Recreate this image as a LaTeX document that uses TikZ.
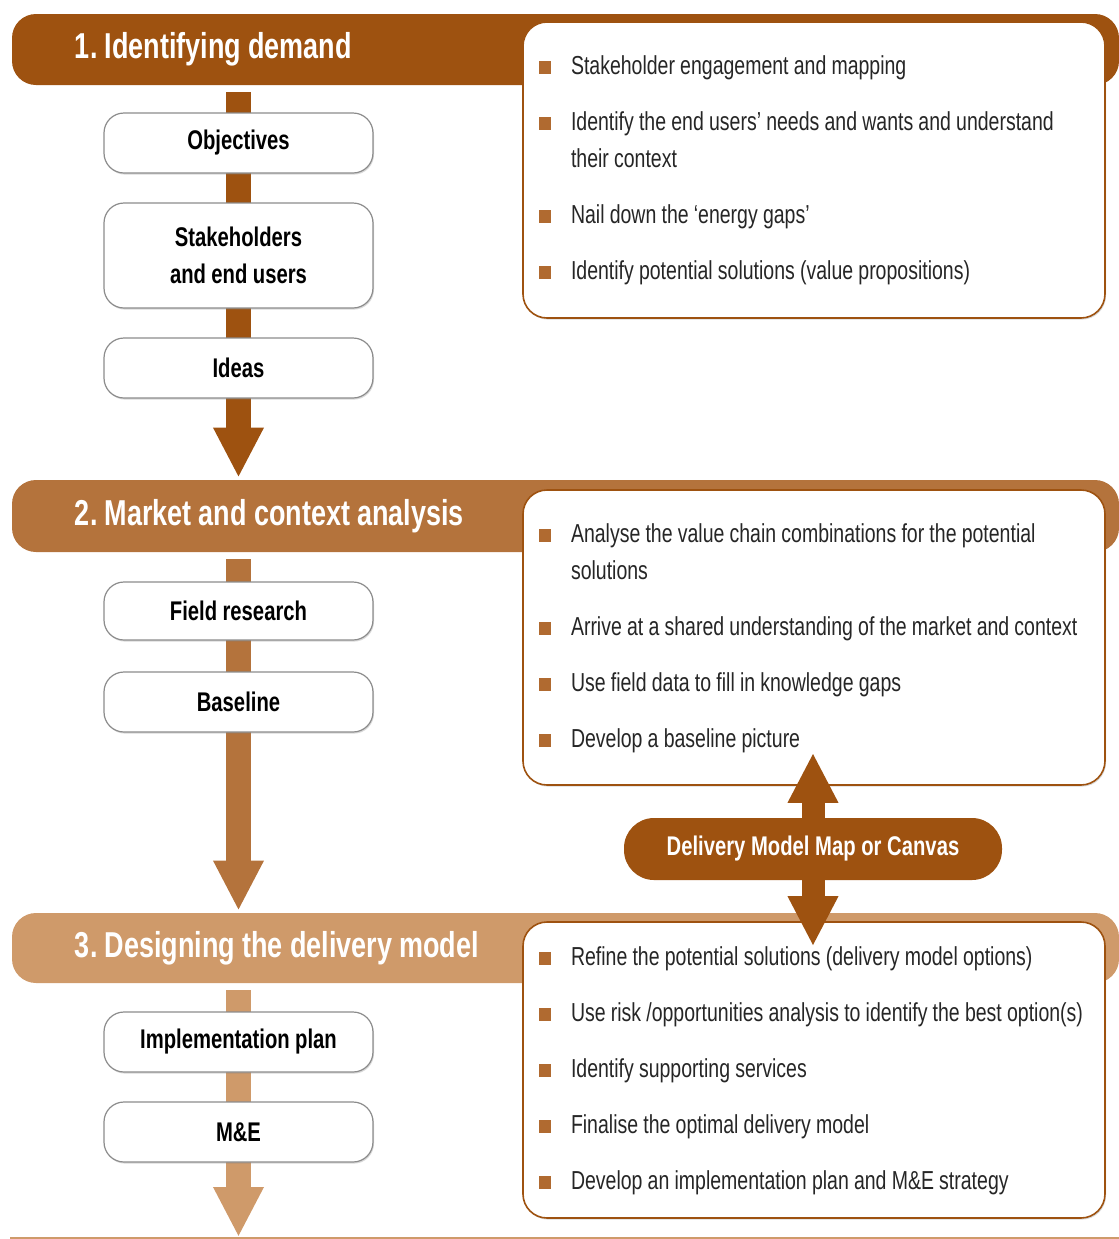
\documentclass[tikz,border=0pt]{standalone}
\usepackage{fontspec}
\setmainfont{Liberation Sans}[FakeStretch=0.75]
\usetikzlibrary{arrows.meta,shadows,backgrounds}
\definecolor{demandbrown}{HTML}{9E5210}
\definecolor{marketbrown}{HTML}{B4733C}
\definecolor{designbrown}{HTML}{CF9A6A}
\definecolor{bulletbrown}{HTML}{B06A30}
\definecolor{boxgray}{HTML}{8C8C8C}
\newcommand{\tightsp}{\spaceskip=0.2em\relax\xspaceskip=0.2em\relax}
\newcommand{\bul}[1]{\par\hangindent=16pt\hangafter=1\noindent\makebox[16pt][l]{\textcolor{bulletbrown}{\rule[0.3pt]{6pt}{6.5pt}}}\mbox{\tightsp#1}}
\newcommand{\bult}[2]{\bul{#1}\newline\mbox{\tightsp#2}}
\tikzset{
  phase/.style={rounded corners=12pt, minimum width=553.5pt, text width=490.5pt, inner xsep=31.5pt, inner ysep=0pt, align=left, text=white, font=\fontsize{18}{20}\selectfont\bfseries, execute at begin node=\tightsp},
  steplist/.style={draw=demandbrown, line width=0.8pt, fill=white, rounded corners=12pt, text width=275pt, inner xsep=8pt, minimum height=148pt, align=left, text=black!85, font=\fontsize{13}{18.5}\selectfont, drop shadow={shadow xshift=0.5pt, shadow yshift=-0.8pt, opacity=0.3}},
  task/.style={draw=boxgray, line width=0.6pt, fill=white, rounded corners=10pt, minimum width=134.5pt, minimum height=30pt, align=center, font=\fontsize{13.5}{18.5}\selectfont\bfseries, execute at begin node=\tightsp, drop shadow={shadow xshift=0.5pt, shadow yshift=-0.8pt, opacity=0.3}},
  stem/.style={line width=12.5pt, shorten <=3.5pt, shorten >=1pt, -{Triangle[width=23.5pt,length=25pt]}},
  link/.style={line width=11.5pt, demandbrown, -{Triangle[width=23.5pt,length=25pt]}}
}
\begin{document}
\begin{tikzpicture}[x=0.5pt,y=-0.5pt]
\useasboundingbox (0,0) rectangle (1119,1239);
\node[phase, fill=demandbrown, minimum height=35.5pt] (phase1) at (565.5,49.5) {1. Identifying demand};
\node[phase, fill=marketbrown, minimum height=36pt] (phase2) at (565.5,516) {2. Market and context analysis};
\node[phase, fill=designbrown, minimum height=35pt] (phase3) at (565.5,948) {3. Designing the delivery model};

\node[steplist] (list1) at (814,170) {\setlength{\parskip}{9.5pt}\vspace*{-18pt}%
\bul{Stakeholder engagement and mapping}
\bult{Identify the end users' needs and wants and understand}{their context}
\bul{Nail down the `energy gaps'}
\bul{Identify potential solutions (value propositions)}};
\node[steplist, minimum height=147.5pt] (list2) at (814,637.5) {\setlength{\parskip}{9.5pt}\vspace*{-18pt}%
\bult{Analyse the value chain combinations for the potential}{solutions}
\bul{Arrive at a shared understanding of the market and context}
\bul{Use field data to fill in knowledge gaps}
\bul{Develop a baseline picture}};
\node[steplist] (list3) at (814,1070) {\setlength{\parskip}{9.5pt}\vspace*{-18pt}%
\bul{Refine the potential solutions (delivery model options)}
\bul{Use risk /opportunities analysis to identify the best option(s)}
\bul{Identify supporting services}
\bul{Finalise the optimal delivery model}
\bul{Develop an implementation plan and M\&E strategy}};

\node[task] (obj) at (238.5,143) {Objectives};
\node[task, minimum height=52.5pt] (stake) at (238.5,255.5) {Stakeholders\\and end users};
\node[task] (ideas) at (238.5,368) {Ideas};
\node[task, minimum height=29pt] (field) at (238.5,611) {Field research};
\node[task] (base) at (238.5,702) {Baseline};
\node[task] (impl) at (238.5,1042) {Implementation plan};
\node[task] (me) at (238.5,1132) {M\&E};
\coordinate (end) at (238.5,1237);

\begin{pgfonlayer}{background}
\draw[stem, demandbrown] (phase1.south -| obj) -- (phase2.north -| obj);
\draw[stem, marketbrown] (phase2.south -| field) -- (phase3.north -| field);
\draw[stem, designbrown, shorten >=0pt] (phase3.south -| impl) -- (end);
\end{pgfonlayer}
\draw[designbrown, line width=0.6pt] (10,1238) -- (1119,1238);

\node[fill=demandbrown, rounded corners=15pt, minimum width=189pt, minimum height=31pt, text=white, font=\fontsize{13.5}{16}\selectfont\bfseries] (canvas) at (813,849) {Delivery Model Map or Canvas};
\draw[link, shorten >=-16.5pt] (canvas.north) -- (canvas.north |- list2.south);
\draw[link, shorten >=-12.5pt] (canvas.south) -- (canvas.south |- list3.north);
\end{tikzpicture}
\end{document}
